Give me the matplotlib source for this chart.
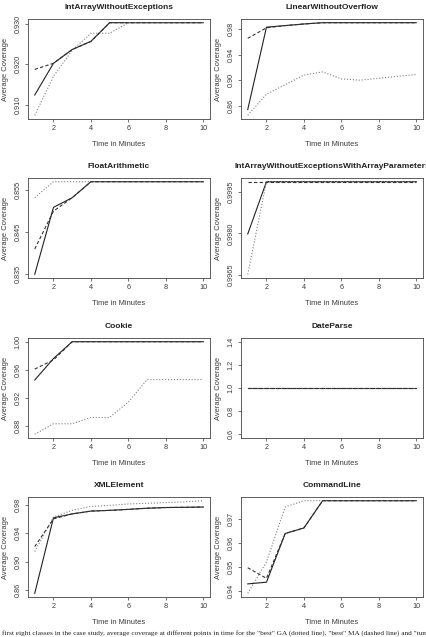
import matplotlib
matplotlib.use("Agg")
import matplotlib.pyplot as plt
import numpy as np

MINUTES = [1, 2, 3, 4, 5, 6, 7, 8, 9, 10]

# dotted = "best" GA, dashed = "best" MA, solid = tuned MA
INTARR_GA = [0.9074, 0.9170, 0.9234, 0.9276, 0.9276, 0.9302, 0.9302, 0.9302, 0.9302, 0.9302]
INTARR_MA = [0.9187, 0.9202, 0.9236, 0.9256, 0.9302, 0.9302, 0.9302, 0.9302, 0.9302, 0.9302]
INTARR_TUNED = [0.9124, 0.9202, 0.9236, 0.9256, 0.9302, 0.9302, 0.9302, 0.9302, 0.9302, 0.9302]

LINEAR_GA = [0.845, 0.878, 0.893, 0.908, 0.913, 0.902, 0.900, 0.903, 0.906, 0.909]
LINEAR_MA = [0.9655, 0.982, 0.9855, 0.988, 0.990, 0.990, 0.990, 0.990, 0.990, 0.990]
LINEAR_TUNED = [0.854, 0.983, 0.9855, 0.988, 0.990, 0.990, 0.990, 0.990, 0.990, 0.990]

FLOAT_GA = [0.8532, 0.857, 0.857, 0.857, 0.857, 0.857, 0.857, 0.857, 0.857, 0.857]
FLOAT_MA = [0.841, 0.850, 0.8532, 0.857, 0.857, 0.857, 0.857, 0.857, 0.857, 0.857]
FLOAT_TUNED = [0.835, 0.8509, 0.8532, 0.857, 0.857, 0.857, 0.857, 0.857, 0.857, 0.857]

INTPARAM_GA = [0.99652, 0.99987, 0.99987, 0.99987, 0.99987, 0.99987, 0.99987, 0.99987, 0.99987, 0.99987]
INTPARAM_MA = [0.99987, 0.99987, 0.99987, 0.99987, 0.99987, 0.99987, 0.99987, 0.99987, 0.99987, 0.99987]
INTPARAM_TUNED = [0.99798, 0.99987, 0.99987, 0.99987, 0.99987, 0.99987, 0.99987, 0.99987, 0.99987, 0.99987]

COOKIE_GA = [0.868, 0.883, 0.883, 0.892, 0.892, 0.914, 0.946, 0.946, 0.946, 0.946]
COOKIE_MA = [0.961, 0.974, 1.0, 1.0, 1.0, 1.0, 1.0, 1.0, 1.0, 1.0]
COOKIE_TUNED = [0.9454, 0.976, 1.0, 1.0, 1.0, 1.0, 1.0, 1.0, 1.0, 1.0]

DATE_GA = [1.0, 1.0, 1.0, 1.0, 1.0, 1.0, 1.0, 1.0, 1.0, 1.0]
DATE_MA = [1.0, 1.0, 1.0, 1.0, 1.0, 1.0, 1.0, 1.0, 1.0, 1.0]
DATE_TUNED = [1.0, 1.0, 1.0, 1.0, 1.0, 1.0, 1.0, 1.0, 1.0, 1.0]

XML_GA = [0.914, 0.9626, 0.972, 0.9776, 0.979, 0.981, 0.982, 0.983, 0.984, 0.9856]
XML_MA = [0.921, 0.960, 0.967, 0.971, 0.972, 0.9734, 0.975, 0.976, 0.9763, 0.9767]
XML_TUNED = [0.8553, 0.9616, 0.967, 0.971, 0.972, 0.9734, 0.975, 0.976, 0.9763, 0.9767]

CMD_GA = [0.939, 0.952, 0.9748, 0.9774, 0.9774, 0.9774, 0.9774, 0.9774, 0.9774, 0.9774]
CMD_MA = [0.9496, 0.9452, 0.9638, 0.9661, 0.9774, 0.9774, 0.9774, 0.9774, 0.9774, 0.9774]
CMD_TUNED = [0.9429, 0.9436, 0.9638, 0.9661, 0.9774, 0.9774, 0.9774, 0.9774, 0.9774, 0.9774]

TITLES = ["IntArrayWithoutExceptions", "LinearWithoutOverflow", "FloatArithmetic",
          "IntArrayWithoutExceptionsWithArrayParameters", "Cookie", "DateParse",
          "XMLElement", "CommandLine"]
YTICKS = [[0.910, 0.920, 0.930], [0.86, 0.90, 0.94, 0.98], [0.835, 0.845, 0.855],
          [0.9965, 0.9980, 0.9995], [0.88, 0.92, 0.96, 1.00], [0.6, 0.8, 1.0, 1.2, 1.4],
          [0.86, 0.90, 0.94, 0.98], [0.94, 0.95, 0.96, 0.97]]
YFMT = ["%.3f", "%.2f", "%.3f", "%.4f", "%.2f", "%.1f", "%.2f", "%.2f"]
XTICKS = [2, 4, 6, 8, 10]

SERIES = [
    (INTARR_GA, INTARR_MA, INTARR_TUNED),
    (LINEAR_GA, LINEAR_MA, LINEAR_TUNED),
    (FLOAT_GA, FLOAT_MA, FLOAT_TUNED),
    (INTPARAM_GA, INTPARAM_MA, INTPARAM_TUNED),
    (COOKIE_GA, COOKIE_MA, COOKIE_TUNED),
    (DATE_GA, DATE_MA, DATE_TUNED),
    (XML_GA, XML_MA, XML_TUNED),
    (CMD_GA, CMD_MA, CMD_TUNED),
]

TXT = "#3a3a3a"
plt.rcParams["font.family"] = ["Liberation Sans", "DejaVu Sans"]

fig = plt.figure(figsize=(4.27, 6.37), dpi=100)
W, H = 427.0, 637.0
lefts = [28, 241]
tops = [19, 178, 338, 497]
aw, ah = 182, 100

for i, (ga, ma, tuned) in enumerate(SERIES):
    r, c = divmod(i, 2)
    ax = fig.add_axes([lefts[c] / W, 1 - (tops[r] + ah) / H, aw / W, ah / H])
    ax.plot(MINUTES, tuned, "-", color="#222222", lw=0.8)
    ax.plot(MINUTES, ga, ":", color="#808080", lw=0.8)
    ax.plot(MINUTES, ma, "--", color="#333333", lw=0.8, dashes=(3, 2))
    allv = np.concatenate([ga, ma, tuned])
    lo, hi = allv.min(), allv.max()
    if hi == lo:
        lo, hi = lo * 0.6, hi * 1.4
    pad = (hi - lo) * 0.04
    ax.set_ylim(lo - pad, hi + pad)
    ax.set_xlim(0.64, 10.36)
    ax.set_xticks(XTICKS)
    ax.set_yticks(YTICKS[i])
    ax.set_yticklabels([YFMT[i] % v for v in YTICKS[i]], rotation=90, va="center")
    ax.tick_params(labelsize=5.2, colors=TXT, length=2.5, width=0.5, pad=2)
    for s in ax.spines.values():
        s.set_linewidth(0.6)
        s.set_color("#444444")
    ax.set_xlabel("Time in Minutes", fontsize=5.4, color=TXT, labelpad=6)
    ax.set_ylabel("Average Coverage", fontsize=5.4, color=TXT, labelpad=4)
    ax.set_title(TITLES[i], fontsize=6.0, fontweight="bold", color="#222222", pad=7)

fig.text(0.004, 2.5 / H,
         'first eight classes in the case study, average coverage at different points in time for the "best" GA (dotted line), "best" MA (dashed line) and "tuned"',
         fontsize=5.25, family=["Liberation Serif", "DejaVu Serif"], color="#222222", va="baseline", ha="left")

fig.savefig("out.png", dpi=100, facecolor="white")
